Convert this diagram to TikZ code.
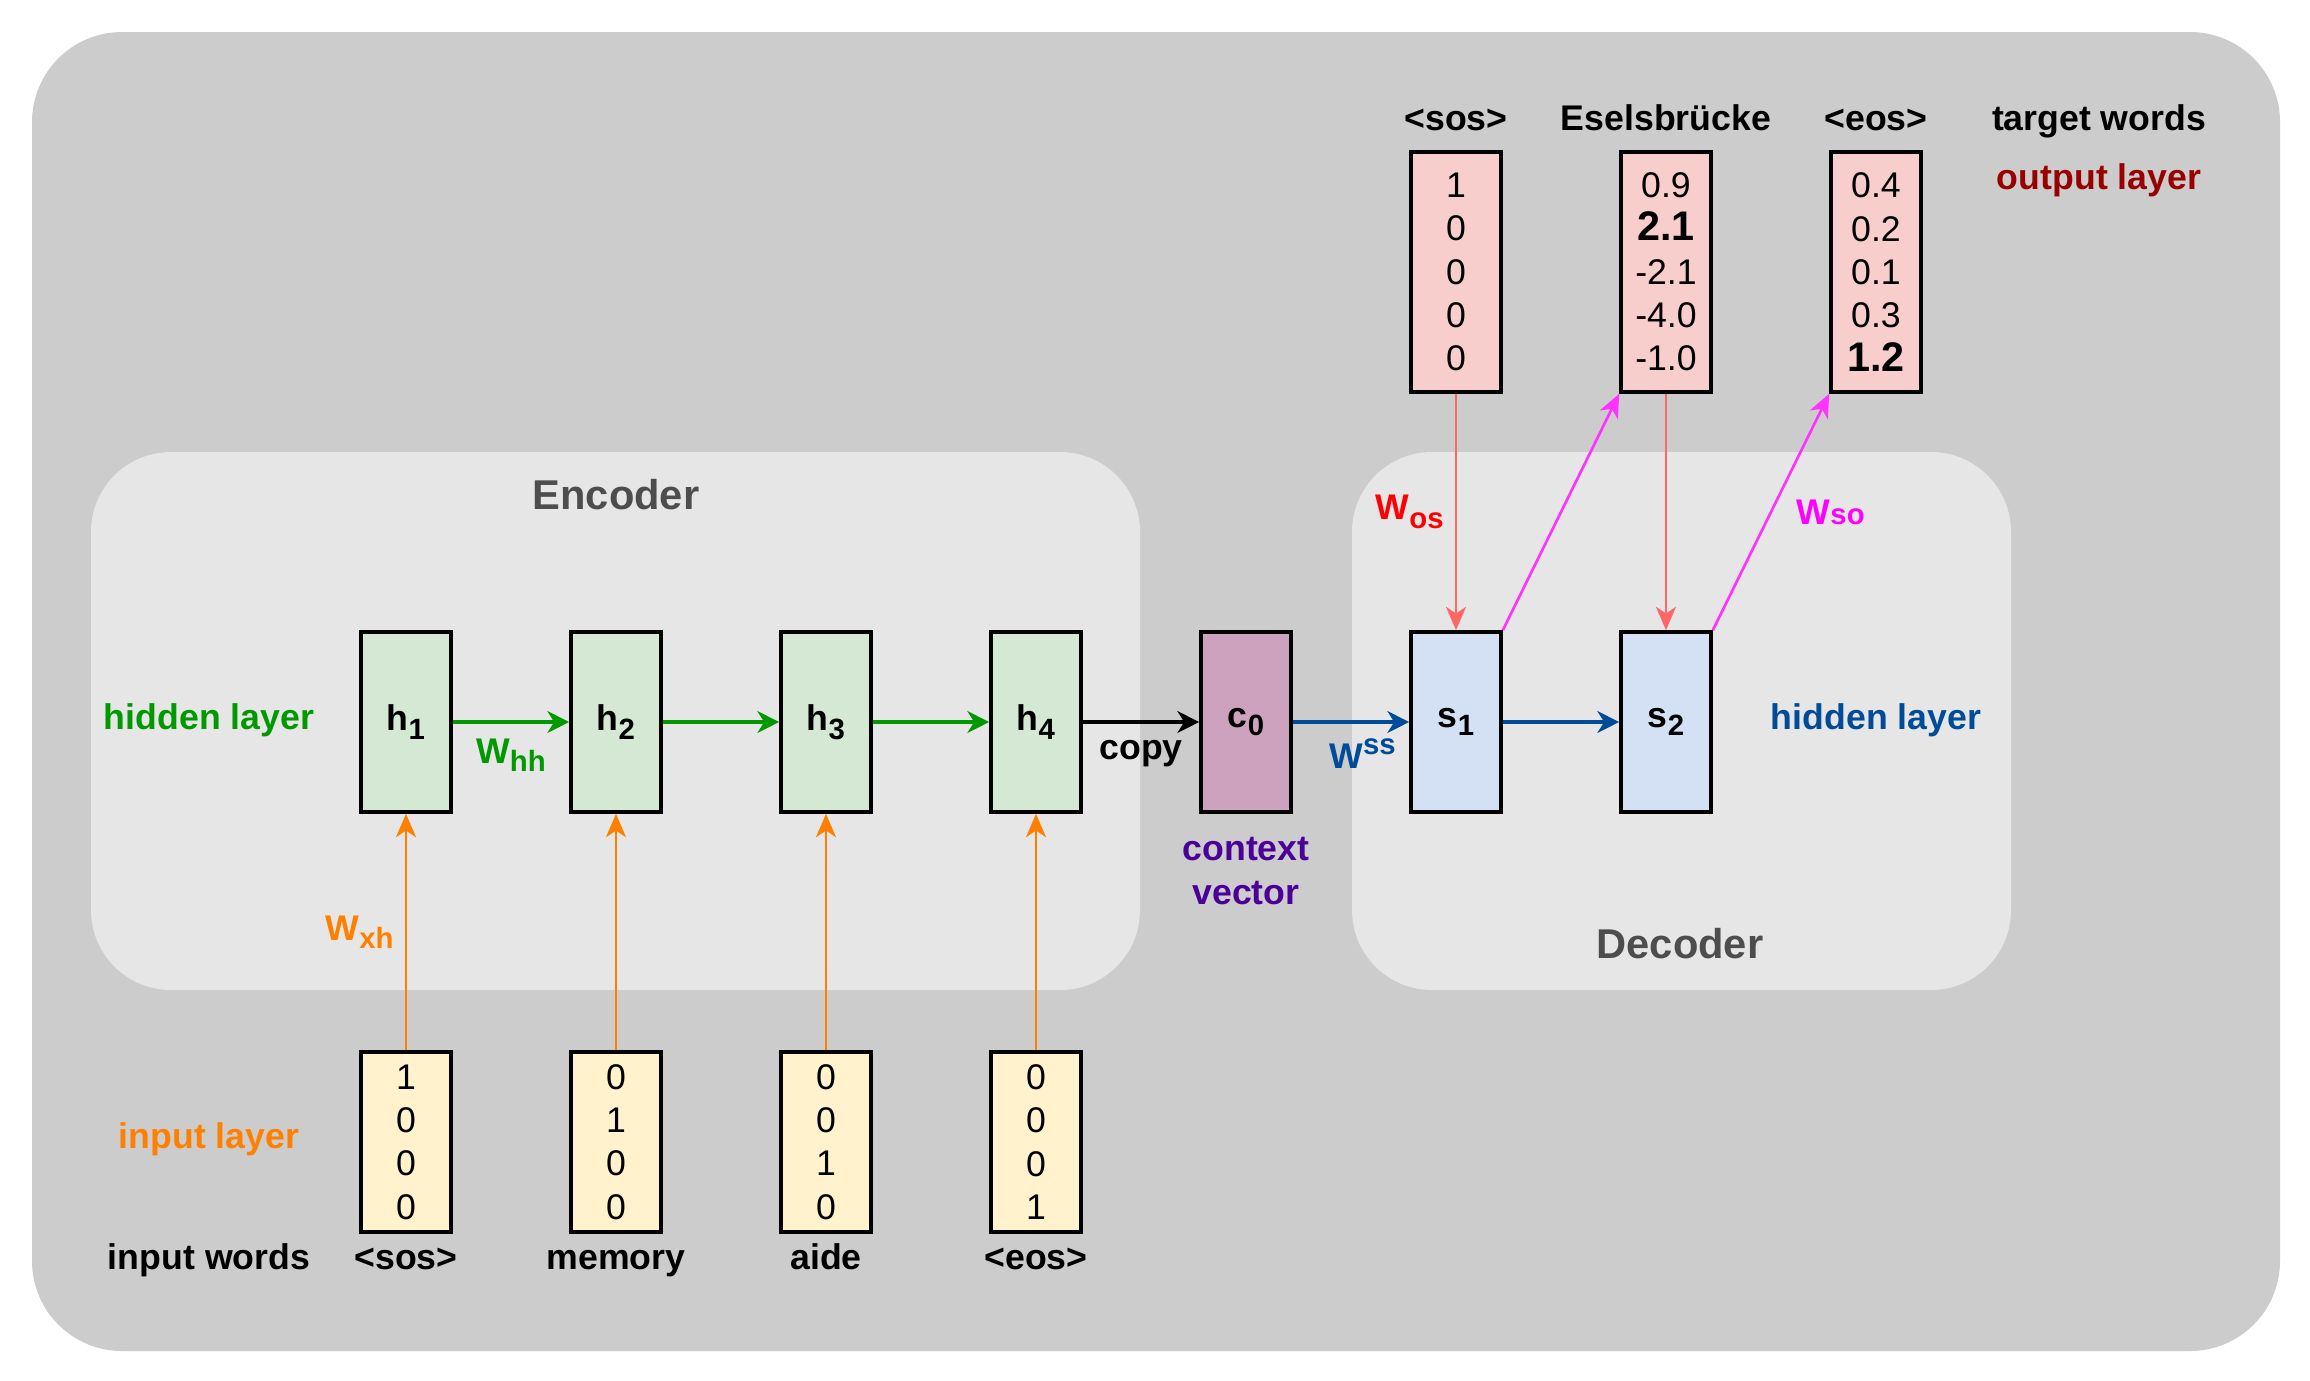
\documentclass[tikz,border=0pt]{standalone}
\usepackage{fontspec}
\setmainfont{Liberation Sans}
\usetikzlibrary{arrows.meta}

\definecolor{outerGray}{HTML}{CCCCCC}
\definecolor{innerGray}{HTML}{E6E6E6}
\definecolor{hidGreen}{HTML}{D5E8D4}
\definecolor{inYellow}{HTML}{FFF2CC}
\definecolor{outRed}{HTML}{F8CECC}
\definecolor{decBlue}{HTML}{D4E1F5}
\definecolor{ctxPurple}{HTML}{CDA2BE}
\definecolor{lineGreen}{HTML}{009900}
\definecolor{lineOrange}{HTML}{FF8000}
\definecolor{lineBlue}{HTML}{004C99}
\definecolor{lineRed}{HTML}{FF6666}
\definecolor{lineMagenta}{HTML}{FF33FF}
\definecolor{txtRed}{HTML}{FF0000}
\definecolor{txtMagenta}{HTML}{FF00FF}
\definecolor{txtDarkRed}{HTML}{990000}
\definecolor{txtPurple}{HTML}{4C0099}
\definecolor{txtGray}{HTML}{4D4D4D}

\newcommand\lowtxt[1]{\raisebox{-0.45ex}{\fontsize{8.8}{9}\selectfont #1}}
\newcommand\uptxt[1]{\raisebox{0.75ex}{\fontsize{8.8}{9}\selectfont #1}}

\begin{document}
\begin{tikzpicture}[x=0.3pt,y=-0.3pt,
every node/.style={font=\fontsize{10.7}{13}\selectfont\bfseries},
vecbox/.style={draw,line width=1.1pt,minimum width=27pt,inner sep=0pt,
  align=center,font=\fontsize{10.7}{13}\selectfont},
hidbox/.style={draw,line width=1.1pt,minimum width=27pt,minimum height=54pt,inner sep=0pt},
wordtxt/.style={text height=8pt,text depth=2.4pt},
titletxt/.style={text=txtGray,font=\fontsize{12.5}{15}\selectfont\bfseries},
thick arrow/.style={line width=1.4pt,-{Stealth[length=6.5pt,width=6.5pt,inset=2pt]}},
thin arrow/.style={line width=0.8pt,-{Stealth[length=7pt,width=6pt,inset=2pt]}}
]
% canvas
\fill[white] (0,0) rectangle (2310,1380);
\fill[outerGray,rounded corners=27pt] (32,32) rectangle (2280,1351);
\fill[innerGray,rounded corners=24pt] (91,452) rectangle (1140,990);
\fill[innerGray,rounded corners=24pt] (1352,452) rectangle (2011,990);
\node[titletxt] (enc) at (616,495) {Encoder};
\node[titletxt] (dec) at (1680,944) {Decoder};

% hidden states
\node[hidbox,fill=hidGreen] (h1) at (406,722) {h\lowtxt{1}};
\node[hidbox,fill=hidGreen] (h2) at (616,722) {h\lowtxt{2}};
\node[hidbox,fill=hidGreen] (h3) at (826,722) {h\lowtxt{3}};
\node[hidbox,fill=hidGreen] (h4) at (1036,722) {h\lowtxt{4}};
\node[hidbox,fill=ctxPurple] (c0) at (1246,722) {c\lowtxt{0}};
\node[hidbox,fill=decBlue] (s1) at (1456,722) {s\lowtxt{1}};
\node[hidbox,fill=decBlue] (s2) at (1666,722) {s\lowtxt{2}};

% input vectors
\node[vecbox,fill=inYellow,minimum height=54pt] (x1) at (406,1142) {1\\0\\0\\0};
\node[vecbox,fill=inYellow,minimum height=54pt] (x2) at (616,1142) {0\\1\\0\\0};
\node[vecbox,fill=inYellow,minimum height=54pt] (x3) at (826,1142) {0\\0\\1\\0};
\node[vecbox,fill=inYellow,minimum height=54pt] (x4) at (1036,1142) {0\\0\\0\\1};

% output vectors
\node[vecbox,fill=outRed,minimum height=72pt] (o1) at (1456,272) {1\\0\\0\\0\\0};
\node[vecbox,fill=outRed,minimum height=72pt] (o2) at (1666,272)
  {0.9\\{\fontsize{12.4}{13}\selectfont\bfseries 2.1}\\-2.1\\-4.0\\-1.0};
\node[vecbox,fill=outRed,minimum height=72pt] (o3) at (1876,272)
  {0.4\\0.2\\0.1\\0.3\\{\fontsize{12.4}{13}\selectfont\bfseries 1.2}};

% words
\node[wordtxt] (inwords) at (209,1260) {input words};
\node[wordtxt] (w1) at (406,1260) {<sos>};
\node[wordtxt] (w2) at (616,1260) {memory};
\node[wordtxt] (w3) at (826,1260) {aide};
\node[wordtxt] (w4) at (1036,1260) {<eos>};
\node[wordtxt] (tgtwords) at (2099,121) {target words};
\node[wordtxt] (t1) at (1456,121) {<sos>};
\node[wordtxt] (t2) at (1666,121) {Eselsbrücke};
\node[wordtxt] (t3) at (1876,121) {<eos>};

% layer labels
\node[wordtxt,text=lineGreen] (enchid) at (209,720) {hidden layer};
\node[wordtxt,text=lineOrange] (encin) at (209,1139) {input layer};
\node[wordtxt,text=lineBlue] (dechid) at (1876,720) {hidden layer};
\node[wordtxt,text=txtDarkRed] (decout) at (2099,180) {output layer};
\node[text=txtPurple,align=center,font=\fontsize{10.7}{13.2}\selectfont\bfseries]
  (ctx) at (1246,871) {context\\vector};

% encoder connections
\draw[thick arrow,lineGreen] (h1) -- node[below=1pt,text=lineGreen]{W\lowtxt{hh}} (h2);
\draw[thick arrow,lineGreen] (h2) -- (h3);
\draw[thick arrow,lineGreen] (h3) -- (h4);
\draw[thin arrow,lineOrange] (x1) -- node[left,text=lineOrange]{W\lowtxt{xh}} (h1);
\draw[thin arrow,lineOrange] (x2) -- (h2);
\draw[thin arrow,lineOrange] (x3) -- (h3);
\draw[thin arrow,lineOrange] (x4) -- (h4);
\draw[thick arrow,black] (h4) -- node[below=1.5pt]{copy} (c0);

% decoder connections
\draw[thick arrow,lineBlue] (c0) -- node[below=1pt,pos=0.6,text=lineBlue]{W\uptxt{ss}} (s1);
\draw[thick arrow,lineBlue] (s1) -- (s2);
\draw[thin arrow,lineRed] (o1) -- node[left,text=txtRed]{W\lowtxt{os}} (s1);
\draw[thin arrow,lineRed] (o2) -- (s2);
\draw[thin arrow,lineMagenta] (s1.north east) -- (o2.south west);
\draw[thin arrow,lineMagenta] (s2.north east) -- node[right=4pt,text=txtMagenta]
  {W{\fontsize{8.8}{9}\selectfont so}} (o3.south west);
\end{tikzpicture}
\end{document}
